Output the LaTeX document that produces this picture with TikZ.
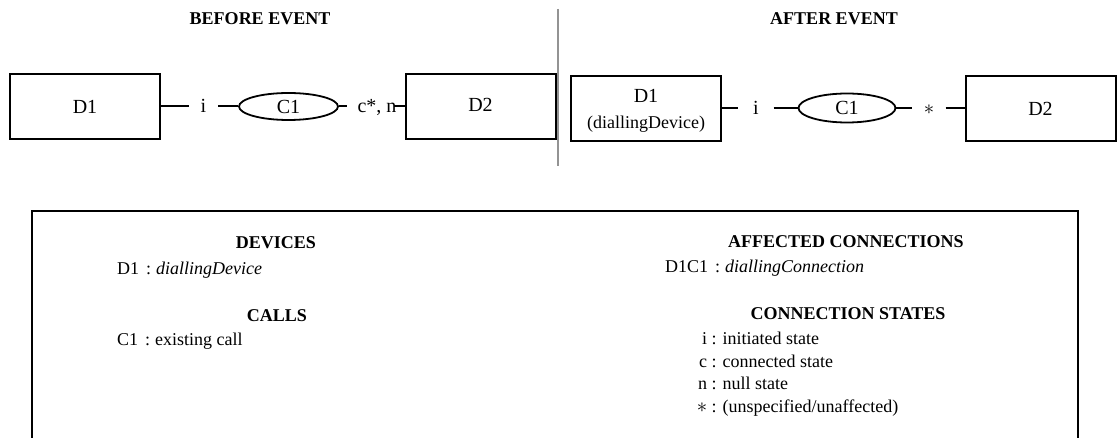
\documentclass[tikz,border=0pt]{standalone}
\usepackage{fontspec}
\setmainfont{Liberation Serif}
\usetikzlibrary{shapes.geometric}
\tikzset{
  dev/.style={draw, line width=2pt, minimum width=150pt, minimum height=65pt, inner sep=0pt, font=\fontsize{20}{24}\selectfont},
  callell/.style={ellipse, draw, line width=1.8pt, minimum width=99pt, minimum height=27pt, inner sep=0pt, font=\fontsize{20}{24}\selectfont},
  conn/.style={line width=2pt},
  lbl/.style={inner sep=0pt, font=\fontsize{20}{24}\selectfont, text height=13pt, text depth=0pt},
  head/.style={inner sep=0pt, anchor=base, font=\bfseries\fontsize{18}{22}\selectfont},
  txt/.style={inner sep=0pt, anchor=base west, font=\fontsize{18}{22}\selectfont},
}
\newcommand{\stl}[1]{\makebox[10pt][r]{#1}}
\newcommand{\bigast}{\raisebox{0pt}[0pt][0pt]{\fontsize{22}{22}\selectfont$\ast$}}
\begin{document}
\begin{tikzpicture}[x=1pt,y=-1pt]
\useasboundingbox (0,0) rectangle (1120,438);
% titles
\node[head] (tb) at (260,25) {BEFORE EVENT};
\node[head] (ta) at (834,25) {AFTER EVENT};
% divider
\coordinate (dvt) at (558,9);
\coordinate (dvb) at (558,166);
\draw[line width=1.6pt, gray!85] (dvt) -- (dvb);
% before
\node[dev] (D1a) at (85,106.5) {D1};
\node[lbl, minimum width=29pt] (ia) at (203.5,106.5) {i};
\node[callell] (C1a) at (288.5,106.5) {C1};
\node[lbl] (sa) at (377,106.5) {c*, n};
\node[dev] (D2a) at (480.5,106.5) {\raisebox{3pt}{D2}};
\draw[conn] (D1a.east) -- (ia.west);
\draw[conn] (ia.east) -- (C1a.west);
\draw[conn] (C1a.east) -- ([xshift=-10pt]sa.west);
\draw[conn] ([xshift=-3pt]sa.east) -- (D2a.west);
% after
\node[dev] (D1b) at (646,109) {};
\node[lbl] (D1bt) at (646,96) {D1};
\node[inner sep=0pt, font=\fontsize{18}{20}\selectfont] (D1bs) at (646,124) {(diallingDevice)};
\node[lbl, minimum width=35pt] (ib) at (756,108) {i};
\node[callell, minimum width=97pt, minimum height=29pt] (C1b) at (847,108) {C1};
\node[lbl, minimum width=33pt] (sb) at (929,108) {$\ast$};
\node[dev] (D2b) at (1040.5,109) {D2};
\draw[conn] (D1b.east |- ib.west) -- (ib.west);
\draw[conn] (ib.east) -- (C1b.west);
\draw[conn] (C1b.east) -- (sb.west);
\draw[conn] (sb.east) -- (D2b.west |- sb.east);
% legend box
\coordinate (lb1) at (32,445);
\coordinate (lb2) at (32,211);
\coordinate (lb3) at (1078,211);
\coordinate (lb4) at (1078,445);
\draw[line width=2pt] (lb1) -- (lb2) -- (lb3) -- (lb4);
% left column
\node[head] (hdev) at (276,249) {DEVICES};
\node[txt] (tdev) at (117,275) {D1\hspace{7pt}:\hspace{5pt}\textit{diallingDevice}};
\node[head] (hcall) at (277,322) {CALLS};
\node[txt] (tcall) at (117,346) {C1\hspace{7pt}:\hspace{5pt}existing call};
% right column
\node[head] (haff) at (846,248) {AFFECTED CONNECTIONS};
\node[txt] (taff) at (665,273) {D1C1\hspace{7pt}:\hspace{5pt}\textit{diallingConnection}};
\node[head] (hst) at (848,320) {CONNECTION STATES};
\node[txt] (s1) at (697,345) {\stl{i} : initiated state};
\node[txt] (s2) at (697,367.5) {\stl{c} : connected state};
\node[txt] (s3) at (697,390) {\stl{n} : null state};
\node[txt] (s4) at (697,412.5) {\stl{\bigast} : (unspecified/unaffected)};
\end{tikzpicture}
\end{document}
